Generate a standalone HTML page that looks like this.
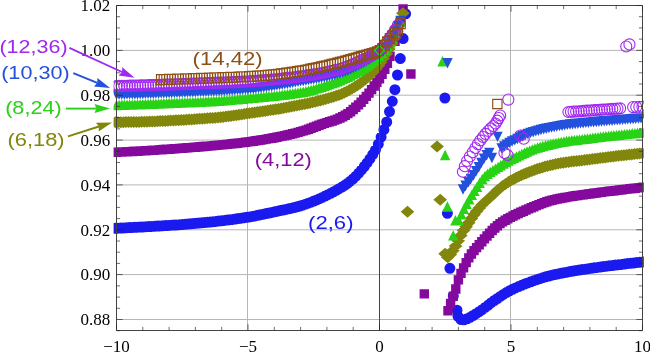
<!DOCTYPE html>
<html><head><meta charset="utf-8"><title>plot</title>
<style>html,body{margin:0;padding:0;background:#fff;}svg{display:block;}text{font-family:"Liberation Serif",serif;}.s{font-family:"Liberation Sans",sans-serif;}</style></head>
<body>
<svg width="650" height="352" viewBox="0 0 650 352" style="will-change:transform">
<rect width="650" height="352" fill="#fff"/>
<path d="M116.5 50.4H642.5M116.5 95.2H642.5M116.5 140.1H642.5M116.5 184.9H642.5M116.5 229.8H642.5M116.5 274.6H642.5M116.5 319.5H642.5M247.5 5.5V330.5M510.5 5.5V330.5" stroke="#b6b6b6" stroke-width="1" fill="none"/>
<defs><clipPath id="c"><rect x="113.6" y="4.2" width="530.2" height="328"/></clipPath></defs>
<g clip-path="url(#c)">
<path d="M109.6 228.3a5.5 5.5 0 1 0 11.0 0a5.5 5.5 0 1 0 -11.0 0zM112.4 228.2a5.5 5.5 0 1 0 11.0 0a5.5 5.5 0 1 0 -11.0 0zM115.2 228.1a5.5 5.5 0 1 0 11.0 0a5.5 5.5 0 1 0 -11.0 0zM118 227.9a5.5 5.5 0 1 0 11.0 0a5.5 5.5 0 1 0 -11.0 0zM120.8 227.8a5.5 5.5 0 1 0 11.0 0a5.5 5.5 0 1 0 -11.0 0zM123.6 227.6a5.5 5.5 0 1 0 11.0 0a5.5 5.5 0 1 0 -11.0 0zM126.4 227.5a5.5 5.5 0 1 0 11.0 0a5.5 5.5 0 1 0 -11.0 0zM129.2 227.3a5.5 5.5 0 1 0 11.0 0a5.5 5.5 0 1 0 -11.0 0zM132 227.2a5.5 5.5 0 1 0 11.0 0a5.5 5.5 0 1 0 -11.0 0zM134.8 227a5.5 5.5 0 1 0 11.0 0a5.5 5.5 0 1 0 -11.0 0zM137.6 226.9a5.5 5.5 0 1 0 11.0 0a5.5 5.5 0 1 0 -11.0 0zM140.4 226.7a5.5 5.5 0 1 0 11.0 0a5.5 5.5 0 1 0 -11.0 0zM143.2 226.6a5.5 5.5 0 1 0 11.0 0a5.5 5.5 0 1 0 -11.0 0zM146 226.4a5.5 5.5 0 1 0 11.0 0a5.5 5.5 0 1 0 -11.0 0zM148.8 226.3a5.5 5.5 0 1 0 11.0 0a5.5 5.5 0 1 0 -11.0 0zM151.6 226.1a5.5 5.5 0 1 0 11.0 0a5.5 5.5 0 1 0 -11.0 0zM154.4 225.9a5.5 5.5 0 1 0 11.0 0a5.5 5.5 0 1 0 -11.0 0zM157.2 225.8a5.5 5.5 0 1 0 11.0 0a5.5 5.5 0 1 0 -11.0 0zM160 225.6a5.5 5.5 0 1 0 11.0 0a5.5 5.5 0 1 0 -11.0 0zM162.8 225.4a5.5 5.5 0 1 0 11.0 0a5.5 5.5 0 1 0 -11.0 0zM165.6 225.2a5.5 5.5 0 1 0 11.0 0a5.5 5.5 0 1 0 -11.0 0zM168.4 225.1a5.5 5.5 0 1 0 11.0 0a5.5 5.5 0 1 0 -11.0 0zM171.2 224.9a5.5 5.5 0 1 0 11.0 0a5.5 5.5 0 1 0 -11.0 0zM174 224.7a5.5 5.5 0 1 0 11.0 0a5.5 5.5 0 1 0 -11.0 0zM176.8 224.5a5.5 5.5 0 1 0 11.0 0a5.5 5.5 0 1 0 -11.0 0zM179.6 224.3a5.5 5.5 0 1 0 11.0 0a5.5 5.5 0 1 0 -11.0 0zM182.4 224a5.5 5.5 0 1 0 11.0 0a5.5 5.5 0 1 0 -11.0 0zM185.2 223.8a5.5 5.5 0 1 0 11.0 0a5.5 5.5 0 1 0 -11.0 0zM188 223.6a5.5 5.5 0 1 0 11.0 0a5.5 5.5 0 1 0 -11.0 0zM190.8 223.3a5.5 5.5 0 1 0 11.0 0a5.5 5.5 0 1 0 -11.0 0zM193.6 223.1a5.5 5.5 0 1 0 11.0 0a5.5 5.5 0 1 0 -11.0 0zM196.4 222.8a5.5 5.5 0 1 0 11.0 0a5.5 5.5 0 1 0 -11.0 0zM199.2 222.6a5.5 5.5 0 1 0 11.0 0a5.5 5.5 0 1 0 -11.0 0zM202 222.3a5.5 5.5 0 1 0 11.0 0a5.5 5.5 0 1 0 -11.0 0zM204.8 222a5.5 5.5 0 1 0 11.0 0a5.5 5.5 0 1 0 -11.0 0zM207.6 221.7a5.5 5.5 0 1 0 11.0 0a5.5 5.5 0 1 0 -11.0 0zM210.4 221.4a5.5 5.5 0 1 0 11.0 0a5.5 5.5 0 1 0 -11.0 0zM213.2 221.1a5.5 5.5 0 1 0 11.0 0a5.5 5.5 0 1 0 -11.0 0zM216 220.8a5.5 5.5 0 1 0 11.0 0a5.5 5.5 0 1 0 -11.0 0zM218.8 220.4a5.5 5.5 0 1 0 11.0 0a5.5 5.5 0 1 0 -11.0 0zM221.6 220.1a5.5 5.5 0 1 0 11.0 0a5.5 5.5 0 1 0 -11.0 0zM224.4 219.7a5.5 5.5 0 1 0 11.0 0a5.5 5.5 0 1 0 -11.0 0zM227.2 219.4a5.5 5.5 0 1 0 11.0 0a5.5 5.5 0 1 0 -11.0 0zM230 219a5.5 5.5 0 1 0 11.0 0a5.5 5.5 0 1 0 -11.0 0zM232.8 218.6a5.5 5.5 0 1 0 11.0 0a5.5 5.5 0 1 0 -11.0 0zM235.6 218.2a5.5 5.5 0 1 0 11.0 0a5.5 5.5 0 1 0 -11.0 0zM238.4 217.8a5.5 5.5 0 1 0 11.0 0a5.5 5.5 0 1 0 -11.0 0zM241.2 217.3a5.5 5.5 0 1 0 11.0 0a5.5 5.5 0 1 0 -11.0 0zM244 216.9a5.5 5.5 0 1 0 11.0 0a5.5 5.5 0 1 0 -11.0 0zM246.8 216.4a5.5 5.5 0 1 0 11.0 0a5.5 5.5 0 1 0 -11.0 0zM249.6 215.9a5.5 5.5 0 1 0 11.0 0a5.5 5.5 0 1 0 -11.0 0zM252.4 215.3a5.5 5.5 0 1 0 11.0 0a5.5 5.5 0 1 0 -11.0 0zM255.2 214.7a5.5 5.5 0 1 0 11.0 0a5.5 5.5 0 1 0 -11.0 0zM258 214.2a5.5 5.5 0 1 0 11.0 0a5.5 5.5 0 1 0 -11.0 0zM260.8 213.6a5.5 5.5 0 1 0 11.0 0a5.5 5.5 0 1 0 -11.0 0zM263.6 213a5.5 5.5 0 1 0 11.0 0a5.5 5.5 0 1 0 -11.0 0zM266.4 212.4a5.5 5.5 0 1 0 11.0 0a5.5 5.5 0 1 0 -11.0 0zM269.2 211.8a5.5 5.5 0 1 0 11.0 0a5.5 5.5 0 1 0 -11.0 0zM272 211.2a5.5 5.5 0 1 0 11.0 0a5.5 5.5 0 1 0 -11.0 0zM274.8 210.6a5.5 5.5 0 1 0 11.0 0a5.5 5.5 0 1 0 -11.0 0zM277.6 210a5.5 5.5 0 1 0 11.0 0a5.5 5.5 0 1 0 -11.0 0zM280.4 209.4a5.5 5.5 0 1 0 11.0 0a5.5 5.5 0 1 0 -11.0 0zM283.2 208.8a5.5 5.5 0 1 0 11.0 0a5.5 5.5 0 1 0 -11.0 0zM286 208.2a5.5 5.5 0 1 0 11.0 0a5.5 5.5 0 1 0 -11.0 0zM288.8 207.5a5.5 5.5 0 1 0 11.0 0a5.5 5.5 0 1 0 -11.0 0zM291.6 206.8a5.5 5.5 0 1 0 11.0 0a5.5 5.5 0 1 0 -11.0 0zM294.4 206a5.5 5.5 0 1 0 11.0 0a5.5 5.5 0 1 0 -11.0 0zM297.2 205.2a5.5 5.5 0 1 0 11.0 0a5.5 5.5 0 1 0 -11.0 0zM300 204.2a5.5 5.5 0 1 0 11.0 0a5.5 5.5 0 1 0 -11.0 0zM302.8 203.2a5.5 5.5 0 1 0 11.0 0a5.5 5.5 0 1 0 -11.0 0zM305.6 202.2a5.5 5.5 0 1 0 11.0 0a5.5 5.5 0 1 0 -11.0 0zM308.4 201a5.5 5.5 0 1 0 11.0 0a5.5 5.5 0 1 0 -11.0 0zM311.2 199.9a5.5 5.5 0 1 0 11.0 0a5.5 5.5 0 1 0 -11.0 0zM314 198.7a5.5 5.5 0 1 0 11.0 0a5.5 5.5 0 1 0 -11.0 0zM316.8 197.4a5.5 5.5 0 1 0 11.0 0a5.5 5.5 0 1 0 -11.0 0zM319.6 196.1a5.5 5.5 0 1 0 11.0 0a5.5 5.5 0 1 0 -11.0 0zM322.4 194.7a5.5 5.5 0 1 0 11.0 0a5.5 5.5 0 1 0 -11.0 0zM325.2 193.3a5.5 5.5 0 1 0 11.0 0a5.5 5.5 0 1 0 -11.0 0zM328 191.8a5.5 5.5 0 1 0 11.0 0a5.5 5.5 0 1 0 -11.0 0zM330.8 190.3a5.5 5.5 0 1 0 11.0 0a5.5 5.5 0 1 0 -11.0 0zM333.6 188.7a5.5 5.5 0 1 0 11.0 0a5.5 5.5 0 1 0 -11.0 0zM336.4 187.1a5.5 5.5 0 1 0 11.0 0a5.5 5.5 0 1 0 -11.0 0zM339.2 185.3a5.5 5.5 0 1 0 11.0 0a5.5 5.5 0 1 0 -11.0 0zM342 183.4a5.5 5.5 0 1 0 11.0 0a5.5 5.5 0 1 0 -11.0 0zM344.8 181.2a5.5 5.5 0 1 0 11.0 0a5.5 5.5 0 1 0 -11.0 0zM347.6 178.8a5.5 5.5 0 1 0 11.0 0a5.5 5.5 0 1 0 -11.0 0zM350.4 176.2a5.5 5.5 0 1 0 11.0 0a5.5 5.5 0 1 0 -11.0 0zM353.2 173.2a5.5 5.5 0 1 0 11.0 0a5.5 5.5 0 1 0 -11.0 0zM356 169.9a5.5 5.5 0 1 0 11.0 0a5.5 5.5 0 1 0 -11.0 0zM358.8 166.5a5.5 5.5 0 1 0 11.0 0a5.5 5.5 0 1 0 -11.0 0zM361.6 162.8a5.5 5.5 0 1 0 11.0 0a5.5 5.5 0 1 0 -11.0 0zM364.4 158.9a5.5 5.5 0 1 0 11.0 0a5.5 5.5 0 1 0 -11.0 0zM367.2 154.6a5.5 5.5 0 1 0 11.0 0a5.5 5.5 0 1 0 -11.0 0zM370 149.8a5.5 5.5 0 1 0 11.0 0a5.5 5.5 0 1 0 -11.0 0zM372.8 144.2a5.5 5.5 0 1 0 11.0 0a5.5 5.5 0 1 0 -11.0 0zM375.6 137.1a5.5 5.5 0 1 0 11.0 0a5.5 5.5 0 1 0 -11.0 0zM378.4 129.7a5.5 5.5 0 1 0 11.0 0a5.5 5.5 0 1 0 -11.0 0zM381.2 122a5.5 5.5 0 1 0 11.0 0a5.5 5.5 0 1 0 -11.0 0zM384 111.6a5.5 5.5 0 1 0 11.0 0a5.5 5.5 0 1 0 -11.0 0zM386.8 101.3a5.5 5.5 0 1 0 11.0 0a5.5 5.5 0 1 0 -11.0 0zM389.4 89.7a5.5 5.5 0 1 0 11.0 0a5.5 5.5 0 1 0 -11.0 0zM392 75a5.5 5.5 0 1 0 11.0 0a5.5 5.5 0 1 0 -11.0 0zM394.8 58.6a5.5 5.5 0 1 0 11.0 0a5.5 5.5 0 1 0 -11.0 0zM397.6 38.6a5.5 5.5 0 1 0 11.0 0a5.5 5.5 0 1 0 -11.0 0zM400.1 13.8a5.5 5.5 0 1 0 11.0 0a5.5 5.5 0 1 0 -11.0 0zM439.4 98a5.5 5.5 0 1 0 11.0 0a5.5 5.5 0 1 0 -11.0 0zM441.9 213.3a5.5 5.5 0 1 0 11.0 0a5.5 5.5 0 1 0 -11.0 0zM444.4 268.3a5.5 5.5 0 1 0 11.0 0a5.5 5.5 0 1 0 -11.0 0zM447.8 296a5.5 5.5 0 1 0 11.0 0a5.5 5.5 0 1 0 -11.0 0zM451.5 310.2a5.5 5.5 0 1 0 11.0 0a5.5 5.5 0 1 0 -11.0 0zM452.5 316.3a5.5 5.5 0 1 0 11.0 0a5.5 5.5 0 1 0 -11.0 0zM455.5 319.6a5.5 5.5 0 1 0 11.0 0a5.5 5.5 0 1 0 -11.0 0zM458.5 319.8a5.5 5.5 0 1 0 11.0 0a5.5 5.5 0 1 0 -11.0 0zM461.6 318.8a5.5 5.5 0 1 0 11.0 0a5.5 5.5 0 1 0 -11.0 0zM464.6 317.3a5.5 5.5 0 1 0 11.0 0a5.5 5.5 0 1 0 -11.0 0zM467.6 315.5a5.5 5.5 0 1 0 11.0 0a5.5 5.5 0 1 0 -11.0 0zM470.6 313.7a5.5 5.5 0 1 0 11.0 0a5.5 5.5 0 1 0 -11.0 0zM473.7 311.7a5.5 5.5 0 1 0 11.0 0a5.5 5.5 0 1 0 -11.0 0zM476.7 309.7a5.5 5.5 0 1 0 11.0 0a5.5 5.5 0 1 0 -11.0 0zM479.7 307.4a5.5 5.5 0 1 0 11.0 0a5.5 5.5 0 1 0 -11.0 0zM482.8 305.1a5.5 5.5 0 1 0 11.0 0a5.5 5.5 0 1 0 -11.0 0zM485.8 302.7a5.5 5.5 0 1 0 11.0 0a5.5 5.5 0 1 0 -11.0 0zM488.8 300.5a5.5 5.5 0 1 0 11.0 0a5.5 5.5 0 1 0 -11.0 0zM491.9 298.5a5.5 5.5 0 1 0 11.0 0a5.5 5.5 0 1 0 -11.0 0zM494.9 296.4a5.5 5.5 0 1 0 11.0 0a5.5 5.5 0 1 0 -11.0 0zM497.9 294.4a5.5 5.5 0 1 0 11.0 0a5.5 5.5 0 1 0 -11.0 0zM500.9 292.6a5.5 5.5 0 1 0 11.0 0a5.5 5.5 0 1 0 -11.0 0zM504 290.8a5.5 5.5 0 1 0 11.0 0a5.5 5.5 0 1 0 -11.0 0zM507 289.3a5.5 5.5 0 1 0 11.0 0a5.5 5.5 0 1 0 -11.0 0zM510 287.9a5.5 5.5 0 1 0 11.0 0a5.5 5.5 0 1 0 -11.0 0zM513.1 286.6a5.5 5.5 0 1 0 11.0 0a5.5 5.5 0 1 0 -11.0 0zM516.1 285.3a5.5 5.5 0 1 0 11.0 0a5.5 5.5 0 1 0 -11.0 0zM519.1 284.1a5.5 5.5 0 1 0 11.0 0a5.5 5.5 0 1 0 -11.0 0zM522.2 282.9a5.5 5.5 0 1 0 11.0 0a5.5 5.5 0 1 0 -11.0 0zM525.2 281.8a5.5 5.5 0 1 0 11.0 0a5.5 5.5 0 1 0 -11.0 0zM528.2 280.7a5.5 5.5 0 1 0 11.0 0a5.5 5.5 0 1 0 -11.0 0zM531.2 279.7a5.5 5.5 0 1 0 11.0 0a5.5 5.5 0 1 0 -11.0 0zM534.3 278.7a5.5 5.5 0 1 0 11.0 0a5.5 5.5 0 1 0 -11.0 0zM537.3 277.7a5.5 5.5 0 1 0 11.0 0a5.5 5.5 0 1 0 -11.0 0zM540.3 276.8a5.5 5.5 0 1 0 11.0 0a5.5 5.5 0 1 0 -11.0 0zM543.4 276a5.5 5.5 0 1 0 11.0 0a5.5 5.5 0 1 0 -11.0 0zM546.4 275.2a5.5 5.5 0 1 0 11.0 0a5.5 5.5 0 1 0 -11.0 0zM549.4 274.6a5.5 5.5 0 1 0 11.0 0a5.5 5.5 0 1 0 -11.0 0zM552.5 273.9a5.5 5.5 0 1 0 11.0 0a5.5 5.5 0 1 0 -11.0 0zM555.5 273.3a5.5 5.5 0 1 0 11.0 0a5.5 5.5 0 1 0 -11.0 0zM558.5 272.7a5.5 5.5 0 1 0 11.0 0a5.5 5.5 0 1 0 -11.0 0zM561.5 272.2a5.5 5.5 0 1 0 11.0 0a5.5 5.5 0 1 0 -11.0 0zM564.6 271.6a5.5 5.5 0 1 0 11.0 0a5.5 5.5 0 1 0 -11.0 0zM567.6 271.1a5.5 5.5 0 1 0 11.0 0a5.5 5.5 0 1 0 -11.0 0zM570.6 270.6a5.5 5.5 0 1 0 11.0 0a5.5 5.5 0 1 0 -11.0 0zM573.7 270.1a5.5 5.5 0 1 0 11.0 0a5.5 5.5 0 1 0 -11.0 0zM576.7 269.6a5.5 5.5 0 1 0 11.0 0a5.5 5.5 0 1 0 -11.0 0zM579.7 269.2a5.5 5.5 0 1 0 11.0 0a5.5 5.5 0 1 0 -11.0 0zM582.8 268.7a5.5 5.5 0 1 0 11.0 0a5.5 5.5 0 1 0 -11.0 0zM585.8 268.3a5.5 5.5 0 1 0 11.0 0a5.5 5.5 0 1 0 -11.0 0zM588.8 267.8a5.5 5.5 0 1 0 11.0 0a5.5 5.5 0 1 0 -11.0 0zM591.8 267.4a5.5 5.5 0 1 0 11.0 0a5.5 5.5 0 1 0 -11.0 0zM594.9 267a5.5 5.5 0 1 0 11.0 0a5.5 5.5 0 1 0 -11.0 0zM597.9 266.6a5.5 5.5 0 1 0 11.0 0a5.5 5.5 0 1 0 -11.0 0zM600.9 266.2a5.5 5.5 0 1 0 11.0 0a5.5 5.5 0 1 0 -11.0 0zM604 265.8a5.5 5.5 0 1 0 11.0 0a5.5 5.5 0 1 0 -11.0 0zM607 265.5a5.5 5.5 0 1 0 11.0 0a5.5 5.5 0 1 0 -11.0 0zM610 265.1a5.5 5.5 0 1 0 11.0 0a5.5 5.5 0 1 0 -11.0 0zM613.1 264.7a5.5 5.5 0 1 0 11.0 0a5.5 5.5 0 1 0 -11.0 0zM616.1 264.4a5.5 5.5 0 1 0 11.0 0a5.5 5.5 0 1 0 -11.0 0zM619.1 264a5.5 5.5 0 1 0 11.0 0a5.5 5.5 0 1 0 -11.0 0zM622.1 263.6a5.5 5.5 0 1 0 11.0 0a5.5 5.5 0 1 0 -11.0 0zM625.2 263.3a5.5 5.5 0 1 0 11.0 0a5.5 5.5 0 1 0 -11.0 0zM628.2 263a5.5 5.5 0 1 0 11.0 0a5.5 5.5 0 1 0 -11.0 0zM631.2 262.6a5.5 5.5 0 1 0 11.0 0a5.5 5.5 0 1 0 -11.0 0zM634.3 262.3a5.5 5.5 0 1 0 11.0 0a5.5 5.5 0 1 0 -11.0 0zM637.3 262a5.5 5.5 0 1 0 11.0 0a5.5 5.5 0 1 0 -11.0 0z" fill="#1a1af0"/>
<path d="M111.8 147.5h9.4v9.4h-9.4zM114.4 147.4h9.4v9.4h-9.4zM117.1 147.3h9.4v9.4h-9.4zM119.7 147.2h9.4v9.4h-9.4zM122.3 147h9.4v9.4h-9.4zM124.9 146.9h9.4v9.4h-9.4zM127.6 146.8h9.4v9.4h-9.4zM130.2 146.6h9.4v9.4h-9.4zM132.8 146.5h9.4v9.4h-9.4zM135.5 146.3h9.4v9.4h-9.4zM138.1 146.2h9.4v9.4h-9.4zM140.7 146h9.4v9.4h-9.4zM143.4 145.9h9.4v9.4h-9.4zM146 145.7h9.4v9.4h-9.4zM148.6 145.5h9.4v9.4h-9.4zM151.2 145.4h9.4v9.4h-9.4zM153.9 145.2h9.4v9.4h-9.4zM156.5 145h9.4v9.4h-9.4zM159.1 144.8h9.4v9.4h-9.4zM161.8 144.6h9.4v9.4h-9.4zM164.4 144.5h9.4v9.4h-9.4zM167 144.3h9.4v9.4h-9.4zM169.7 144.1h9.4v9.4h-9.4zM172.3 143.9h9.4v9.4h-9.4zM174.9 143.7h9.4v9.4h-9.4zM177.5 143.5h9.4v9.4h-9.4zM180.2 143.3h9.4v9.4h-9.4zM182.8 143.1h9.4v9.4h-9.4zM185.4 142.9h9.4v9.4h-9.4zM188.1 142.7h9.4v9.4h-9.4zM190.7 142.5h9.4v9.4h-9.4zM193.3 142.3h9.4v9.4h-9.4zM196 142h9.4v9.4h-9.4zM198.6 141.8h9.4v9.4h-9.4zM201.2 141.6h9.4v9.4h-9.4zM203.8 141.4h9.4v9.4h-9.4zM206.5 141.2h9.4v9.4h-9.4zM209.1 140.9h9.4v9.4h-9.4zM211.7 140.7h9.4v9.4h-9.4zM214.4 140.4h9.4v9.4h-9.4zM217 140.2h9.4v9.4h-9.4zM219.6 139.9h9.4v9.4h-9.4zM222.3 139.7h9.4v9.4h-9.4zM224.9 139.4h9.4v9.4h-9.4zM227.5 139.1h9.4v9.4h-9.4zM230.1 138.8h9.4v9.4h-9.4zM232.8 138.5h9.4v9.4h-9.4zM235.4 138.2h9.4v9.4h-9.4zM238 137.9h9.4v9.4h-9.4zM240.7 137.6h9.4v9.4h-9.4zM243.3 137.2h9.4v9.4h-9.4zM245.9 136.9h9.4v9.4h-9.4zM248.6 136.5h9.4v9.4h-9.4zM251.2 136.1h9.4v9.4h-9.4zM253.8 135.7h9.4v9.4h-9.4zM256.4 135.3h9.4v9.4h-9.4zM259.1 134.9h9.4v9.4h-9.4zM261.7 134.4h9.4v9.4h-9.4zM264.3 133.9h9.4v9.4h-9.4zM267 133.5h9.4v9.4h-9.4zM269.6 133h9.4v9.4h-9.4zM272.2 132.5h9.4v9.4h-9.4zM274.9 131.9h9.4v9.4h-9.4zM277.5 131.4h9.4v9.4h-9.4zM280.1 130.9h9.4v9.4h-9.4zM282.7 130.3h9.4v9.4h-9.4zM285.4 129.7h9.4v9.4h-9.4zM288 129.1h9.4v9.4h-9.4zM290.6 128.4h9.4v9.4h-9.4zM293.3 127.7h9.4v9.4h-9.4zM295.9 126.9h9.4v9.4h-9.4zM298.5 126.2h9.4v9.4h-9.4zM301.2 125.4h9.4v9.4h-9.4zM303.8 124.5h9.4v9.4h-9.4zM306.4 123.6h9.4v9.4h-9.4zM309 122.5h9.4v9.4h-9.4zM311.7 121.5h9.4v9.4h-9.4zM314.3 120.5h9.4v9.4h-9.4zM316.9 119.5h9.4v9.4h-9.4zM319.6 118.7h9.4v9.4h-9.4zM322.2 117.9h9.4v9.4h-9.4zM324.8 117.1h9.4v9.4h-9.4zM327.5 116.3h9.4v9.4h-9.4zM330.1 115.4h9.4v9.4h-9.4zM332.7 114.4h9.4v9.4h-9.4zM335.3 113.3h9.4v9.4h-9.4zM338 112h9.4v9.4h-9.4zM340.6 110.6h9.4v9.4h-9.4zM343.2 108.9h9.4v9.4h-9.4zM345.9 107h9.4v9.4h-9.4zM348.5 104.8h9.4v9.4h-9.4zM351.1 102.6h9.4v9.4h-9.4zM353.8 100.2h9.4v9.4h-9.4zM356.4 97.5h9.4v9.4h-9.4zM359 94.7h9.4v9.4h-9.4zM361.6 91.7h9.4v9.4h-9.4zM364.3 88.4h9.4v9.4h-9.4zM366.9 84.9h9.4v9.4h-9.4zM369.5 81.3h9.4v9.4h-9.4zM372.2 77.7h9.4v9.4h-9.4zM374.8 74h9.4v9.4h-9.4zM377.4 69.7h9.4v9.4h-9.4zM380.1 64.6h9.4v9.4h-9.4zM382.7 58.7h9.4v9.4h-9.4zM385.3 51.6h9.4v9.4h-9.4zM390.3 36.6h9.4v9.4h-9.4zM392.9 28.3h9.4v9.4h-9.4zM395.6 17.3h9.4v9.4h-9.4zM398.4 4.1h9.4v9.4h-9.4zM406.2 69.3h9.4v9.4h-9.4zM419.6 289.2h9.4v9.4h-9.4zM443.3 306h9.4v9.4h-9.4zM445.9 298.8h9.4v9.4h-9.4zM448.5 291.7h9.4v9.4h-9.4zM451.1 284.3h9.4v9.4h-9.4zM453.7 275.2h9.4v9.4h-9.4zM456.3 268.7h9.4v9.4h-9.4zM458.9 263.2h9.4v9.4h-9.4zM461.5 257.9h9.4v9.4h-9.4zM464.1 253.2h9.4v9.4h-9.4zM466.7 249.3h9.4v9.4h-9.4zM469.3 245.9h9.4v9.4h-9.4zM471.9 242.9h9.4v9.4h-9.4zM474.5 240h9.4v9.4h-9.4zM477.1 237.1h9.4v9.4h-9.4zM479.7 234.2h9.4v9.4h-9.4zM482.3 231.3h9.4v9.4h-9.4zM484.9 228.5h9.4v9.4h-9.4zM487.5 225.8h9.4v9.4h-9.4zM490.1 223.3h9.4v9.4h-9.4zM492.7 221h9.4v9.4h-9.4zM495.3 218.9h9.4v9.4h-9.4zM497.9 217.2h9.4v9.4h-9.4zM500.5 215.5h9.4v9.4h-9.4zM503.1 214.1h9.4v9.4h-9.4zM505.7 212.7h9.4v9.4h-9.4zM508.3 211.3h9.4v9.4h-9.4zM510.9 210h9.4v9.4h-9.4zM513.5 208.8h9.4v9.4h-9.4zM516.1 207.6h9.4v9.4h-9.4zM518.7 206.5h9.4v9.4h-9.4zM521.3 205.3h9.4v9.4h-9.4zM523.9 204.2h9.4v9.4h-9.4zM526.5 203.1h9.4v9.4h-9.4zM529.1 202h9.4v9.4h-9.4zM531.7 200.9h9.4v9.4h-9.4zM534.3 199.9h9.4v9.4h-9.4zM536.9 198.9h9.4v9.4h-9.4zM539.5 197.9h9.4v9.4h-9.4zM542.1 197h9.4v9.4h-9.4zM544.7 196.2h9.4v9.4h-9.4zM547.3 195.5h9.4v9.4h-9.4zM549.9 194.9h9.4v9.4h-9.4zM552.5 194.3h9.4v9.4h-9.4zM555.1 193.8h9.4v9.4h-9.4zM557.7 193.3h9.4v9.4h-9.4zM560.3 192.8h9.4v9.4h-9.4zM562.9 192.4h9.4v9.4h-9.4zM565.5 191.9h9.4v9.4h-9.4zM568.1 191.5h9.4v9.4h-9.4zM570.7 191.1h9.4v9.4h-9.4zM573.3 190.8h9.4v9.4h-9.4zM575.9 190.4h9.4v9.4h-9.4zM578.5 190.1h9.4v9.4h-9.4zM581.1 189.7h9.4v9.4h-9.4zM583.7 189.3h9.4v9.4h-9.4zM586.3 189h9.4v9.4h-9.4zM588.9 188.6h9.4v9.4h-9.4zM591.5 188.3h9.4v9.4h-9.4zM594.1 187.9h9.4v9.4h-9.4zM596.7 187.6h9.4v9.4h-9.4zM599.3 187.2h9.4v9.4h-9.4zM601.9 186.9h9.4v9.4h-9.4zM604.5 186.6h9.4v9.4h-9.4zM607.1 186.3h9.4v9.4h-9.4zM609.7 186h9.4v9.4h-9.4zM612.3 185.7h9.4v9.4h-9.4zM614.9 185.3h9.4v9.4h-9.4zM617.5 185h9.4v9.4h-9.4zM620.1 184.7h9.4v9.4h-9.4zM622.7 184.4h9.4v9.4h-9.4zM625.3 184.1h9.4v9.4h-9.4zM627.9 183.8h9.4v9.4h-9.4zM630.5 183.5h9.4v9.4h-9.4zM633.1 183.2h9.4v9.4h-9.4zM635.7 182.9h9.4v9.4h-9.4zM638.3 182.6h9.4v9.4h-9.4z" fill="#85099d"/>
<path d="M108.6 122.2l6.8 -6.0l6.8 6.0l-6.8 6.0zM111.2 122.2l6.8 -6.0l6.8 6.0l-6.8 6.0zM113.9 122.2l6.8 -6.0l6.8 6.0l-6.8 6.0zM116.5 122.2l6.8 -6.0l6.8 6.0l-6.8 6.0zM119.1 122.1l6.8 -6.0l6.8 6.0l-6.8 6.0zM121.7 122.1l6.8 -6.0l6.8 6.0l-6.8 6.0zM124.4 122.1l6.8 -6.0l6.8 6.0l-6.8 6.0zM127 122l6.8 -6.0l6.8 6.0l-6.8 6.0zM129.6 122l6.8 -6.0l6.8 6.0l-6.8 6.0zM132.3 121.9l6.8 -6.0l6.8 6.0l-6.8 6.0zM134.9 121.8l6.8 -6.0l6.8 6.0l-6.8 6.0zM137.5 121.7l6.8 -6.0l6.8 6.0l-6.8 6.0zM140.2 121.7l6.8 -6.0l6.8 6.0l-6.8 6.0zM142.8 121.6l6.8 -6.0l6.8 6.0l-6.8 6.0zM145.4 121.5l6.8 -6.0l6.8 6.0l-6.8 6.0zM148 121.4l6.8 -6.0l6.8 6.0l-6.8 6.0zM150.7 121.3l6.8 -6.0l6.8 6.0l-6.8 6.0zM153.3 121.1l6.8 -6.0l6.8 6.0l-6.8 6.0zM155.9 121l6.8 -6.0l6.8 6.0l-6.8 6.0zM158.6 120.9l6.8 -6.0l6.8 6.0l-6.8 6.0zM161.2 120.8l6.8 -6.0l6.8 6.0l-6.8 6.0zM163.8 120.6l6.8 -6.0l6.8 6.0l-6.8 6.0zM166.5 120.5l6.8 -6.0l6.8 6.0l-6.8 6.0zM169.1 120.3l6.8 -6.0l6.8 6.0l-6.8 6.0zM171.7 120.2l6.8 -6.0l6.8 6.0l-6.8 6.0zM174.3 120l6.8 -6.0l6.8 6.0l-6.8 6.0zM177 119.9l6.8 -6.0l6.8 6.0l-6.8 6.0zM179.6 119.7l6.8 -6.0l6.8 6.0l-6.8 6.0zM182.2 119.5l6.8 -6.0l6.8 6.0l-6.8 6.0zM184.9 119.4l6.8 -6.0l6.8 6.0l-6.8 6.0zM187.5 119.2l6.8 -6.0l6.8 6.0l-6.8 6.0zM190.1 119l6.8 -6.0l6.8 6.0l-6.8 6.0zM192.8 118.8l6.8 -6.0l6.8 6.0l-6.8 6.0zM195.4 118.7l6.8 -6.0l6.8 6.0l-6.8 6.0zM198 118.5l6.8 -6.0l6.8 6.0l-6.8 6.0zM200.6 118.3l6.8 -6.0l6.8 6.0l-6.8 6.0zM203.3 118.1l6.8 -6.0l6.8 6.0l-6.8 6.0zM205.9 117.9l6.8 -6.0l6.8 6.0l-6.8 6.0zM208.5 117.7l6.8 -6.0l6.8 6.0l-6.8 6.0zM211.2 117.5l6.8 -6.0l6.8 6.0l-6.8 6.0zM213.8 117.2l6.8 -6.0l6.8 6.0l-6.8 6.0zM216.4 116.9l6.8 -6.0l6.8 6.0l-6.8 6.0zM219.1 116.6l6.8 -6.0l6.8 6.0l-6.8 6.0zM221.7 116.3l6.8 -6.0l6.8 6.0l-6.8 6.0zM224.3 115.9l6.8 -6.0l6.8 6.0l-6.8 6.0zM226.9 115.5l6.8 -6.0l6.8 6.0l-6.8 6.0zM229.6 115.2l6.8 -6.0l6.8 6.0l-6.8 6.0zM232.2 114.8l6.8 -6.0l6.8 6.0l-6.8 6.0zM234.8 114.4l6.8 -6.0l6.8 6.0l-6.8 6.0zM237.5 114l6.8 -6.0l6.8 6.0l-6.8 6.0zM240.1 113.6l6.8 -6.0l6.8 6.0l-6.8 6.0zM242.7 113.2l6.8 -6.0l6.8 6.0l-6.8 6.0zM245.4 112.8l6.8 -6.0l6.8 6.0l-6.8 6.0zM248 112.5l6.8 -6.0l6.8 6.0l-6.8 6.0zM250.6 112.1l6.8 -6.0l6.8 6.0l-6.8 6.0zM253.2 111.7l6.8 -6.0l6.8 6.0l-6.8 6.0zM255.9 111.3l6.8 -6.0l6.8 6.0l-6.8 6.0zM258.5 110.9l6.8 -6.0l6.8 6.0l-6.8 6.0zM261.1 110.5l6.8 -6.0l6.8 6.0l-6.8 6.0zM263.8 110.1l6.8 -6.0l6.8 6.0l-6.8 6.0zM266.4 109.7l6.8 -6.0l6.8 6.0l-6.8 6.0zM269 109.3l6.8 -6.0l6.8 6.0l-6.8 6.0zM271.7 108.9l6.8 -6.0l6.8 6.0l-6.8 6.0zM274.3 108.5l6.8 -6.0l6.8 6.0l-6.8 6.0zM276.9 108l6.8 -6.0l6.8 6.0l-6.8 6.0zM279.5 107.6l6.8 -6.0l6.8 6.0l-6.8 6.0zM282.2 107.1l6.8 -6.0l6.8 6.0l-6.8 6.0zM284.8 106.6l6.8 -6.0l6.8 6.0l-6.8 6.0zM287.4 106.1l6.8 -6.0l6.8 6.0l-6.8 6.0zM290.1 105.6l6.8 -6.0l6.8 6.0l-6.8 6.0zM292.7 105.1l6.8 -6.0l6.8 6.0l-6.8 6.0zM295.3 104.6l6.8 -6.0l6.8 6.0l-6.8 6.0zM298 104l6.8 -6.0l6.8 6.0l-6.8 6.0zM300.6 103.5l6.8 -6.0l6.8 6.0l-6.8 6.0zM303.2 102.9l6.8 -6.0l6.8 6.0l-6.8 6.0zM305.8 102.3l6.8 -6.0l6.8 6.0l-6.8 6.0zM308.5 101.7l6.8 -6.0l6.8 6.0l-6.8 6.0zM311.1 101.1l6.8 -6.0l6.8 6.0l-6.8 6.0zM313.7 100.5l6.8 -6.0l6.8 6.0l-6.8 6.0zM316.4 99.8l6.8 -6.0l6.8 6.0l-6.8 6.0zM319 99.1l6.8 -6.0l6.8 6.0l-6.8 6.0zM321.6 98.3l6.8 -6.0l6.8 6.0l-6.8 6.0zM324.3 97.5l6.8 -6.0l6.8 6.0l-6.8 6.0zM326.9 96.7l6.8 -6.0l6.8 6.0l-6.8 6.0zM329.5 95.8l6.8 -6.0l6.8 6.0l-6.8 6.0zM332.1 94.9l6.8 -6.0l6.8 6.0l-6.8 6.0zM334.8 93.9l6.8 -6.0l6.8 6.0l-6.8 6.0zM337.4 92.8l6.8 -6.0l6.8 6.0l-6.8 6.0zM340 91.5l6.8 -6.0l6.8 6.0l-6.8 6.0zM342.7 90.1l6.8 -6.0l6.8 6.0l-6.8 6.0zM345.3 88.6l6.8 -6.0l6.8 6.0l-6.8 6.0zM347.9 87l6.8 -6.0l6.8 6.0l-6.8 6.0zM350.6 85.3l6.8 -6.0l6.8 6.0l-6.8 6.0zM353.2 83.5l6.8 -6.0l6.8 6.0l-6.8 6.0zM355.8 81.6l6.8 -6.0l6.8 6.0l-6.8 6.0zM358.4 79.4l6.8 -6.0l6.8 6.0l-6.8 6.0zM361.1 77l6.8 -6.0l6.8 6.0l-6.8 6.0zM363.7 74.5l6.8 -6.0l6.8 6.0l-6.8 6.0zM366.3 71.7l6.8 -6.0l6.8 6.0l-6.8 6.0zM369 68.7l6.8 -6.0l6.8 6.0l-6.8 6.0zM371.6 65.5l6.8 -6.0l6.8 6.0l-6.8 6.0zM374.2 61.9l6.8 -6.0l6.8 6.0l-6.8 6.0zM376.9 58l6.8 -6.0l6.8 6.0l-6.8 6.0zM379.5 53.7l6.8 -6.0l6.8 6.0l-6.8 6.0zM382.1 49l6.8 -6.0l6.8 6.0l-6.8 6.0zM384.7 43.9l6.8 -6.0l6.8 6.0l-6.8 6.0zM387.4 38l6.8 -6.0l6.8 6.0l-6.8 6.0zM390 31.5l6.8 -6.0l6.8 6.0l-6.8 6.0zM392.6 24.1l6.8 -6.0l6.8 6.0l-6.8 6.0zM396.1 13.2l6.8 -6.0l6.8 6.0l-6.8 6.0zM400.7 211.7l6.8 -6.0l6.8 6.0l-6.8 6.0zM430.3 146.5l6.8 -6.0l6.8 6.0l-6.8 6.0zM433.4 199.7l6.8 -6.0l6.8 6.0l-6.8 6.0zM438.3 253.8l6.8 -6.0l6.8 6.0l-6.8 6.0zM440.9 257.2l6.8 -6.0l6.8 6.0l-6.8 6.0zM443.5 254.6l6.8 -6.0l6.8 6.0l-6.8 6.0zM446.2 250.6l6.8 -6.0l6.8 6.0l-6.8 6.0zM448.8 246l6.8 -6.0l6.8 6.0l-6.8 6.0zM451.4 240.7l6.8 -6.0l6.8 6.0l-6.8 6.0zM454 235.6l6.8 -6.0l6.8 6.0l-6.8 6.0zM456.7 230.5l6.8 -6.0l6.8 6.0l-6.8 6.0zM459.3 226.8l6.8 -6.0l6.8 6.0l-6.8 6.0zM461.9 222.8l6.8 -6.0l6.8 6.0l-6.8 6.0zM464.6 218.5l6.8 -6.0l6.8 6.0l-6.8 6.0zM467.2 214.7l6.8 -6.0l6.8 6.0l-6.8 6.0zM469.8 211.2l6.8 -6.0l6.8 6.0l-6.8 6.0zM472.5 208l6.8 -6.0l6.8 6.0l-6.8 6.0zM475.1 205.1l6.8 -6.0l6.8 6.0l-6.8 6.0zM477.7 202.5l6.8 -6.0l6.8 6.0l-6.8 6.0zM480.3 200.1l6.8 -6.0l6.8 6.0l-6.8 6.0zM483 197.8l6.8 -6.0l6.8 6.0l-6.8 6.0zM485.6 195.3l6.8 -6.0l6.8 6.0l-6.8 6.0zM488.2 192.7l6.8 -6.0l6.8 6.0l-6.8 6.0zM490.9 190.1l6.8 -6.0l6.8 6.0l-6.8 6.0zM493.5 187.9l6.8 -6.0l6.8 6.0l-6.8 6.0zM496.1 185.8l6.8 -6.0l6.8 6.0l-6.8 6.0zM498.8 183.9l6.8 -6.0l6.8 6.0l-6.8 6.0zM501.4 182.2l6.8 -6.0l6.8 6.0l-6.8 6.0zM504 180.6l6.8 -6.0l6.8 6.0l-6.8 6.0zM506.6 179.2l6.8 -6.0l6.8 6.0l-6.8 6.0zM509.3 177.8l6.8 -6.0l6.8 6.0l-6.8 6.0zM511.9 176.5l6.8 -6.0l6.8 6.0l-6.8 6.0zM514.5 175.3l6.8 -6.0l6.8 6.0l-6.8 6.0zM517.2 174.1l6.8 -6.0l6.8 6.0l-6.8 6.0zM519.8 173.1l6.8 -6.0l6.8 6.0l-6.8 6.0zM522.4 172l6.8 -6.0l6.8 6.0l-6.8 6.0zM525.1 171l6.8 -6.0l6.8 6.0l-6.8 6.0zM527.7 170.1l6.8 -6.0l6.8 6.0l-6.8 6.0zM530.3 169.1l6.8 -6.0l6.8 6.0l-6.8 6.0zM532.9 168.2l6.8 -6.0l6.8 6.0l-6.8 6.0zM535.6 167.4l6.8 -6.0l6.8 6.0l-6.8 6.0zM538.2 166.6l6.8 -6.0l6.8 6.0l-6.8 6.0zM540.8 165.9l6.8 -6.0l6.8 6.0l-6.8 6.0zM543.5 165.2l6.8 -6.0l6.8 6.0l-6.8 6.0zM546.1 164.7l6.8 -6.0l6.8 6.0l-6.8 6.0zM548.7 164.1l6.8 -6.0l6.8 6.0l-6.8 6.0zM551.4 163.6l6.8 -6.0l6.8 6.0l-6.8 6.0zM554 163.1l6.8 -6.0l6.8 6.0l-6.8 6.0zM556.6 162.7l6.8 -6.0l6.8 6.0l-6.8 6.0zM559.2 162.3l6.8 -6.0l6.8 6.0l-6.8 6.0zM561.9 161.9l6.8 -6.0l6.8 6.0l-6.8 6.0zM564.5 161.6l6.8 -6.0l6.8 6.0l-6.8 6.0zM567.1 161.2l6.8 -6.0l6.8 6.0l-6.8 6.0zM569.8 161l6.8 -6.0l6.8 6.0l-6.8 6.0zM572.4 160.7l6.8 -6.0l6.8 6.0l-6.8 6.0zM575 160.4l6.8 -6.0l6.8 6.0l-6.8 6.0zM577.7 160.1l6.8 -6.0l6.8 6.0l-6.8 6.0zM580.3 159.7l6.8 -6.0l6.8 6.0l-6.8 6.0zM582.9 159.4l6.8 -6.0l6.8 6.0l-6.8 6.0zM585.5 159l6.8 -6.0l6.8 6.0l-6.8 6.0zM588.2 158.7l6.8 -6.0l6.8 6.0l-6.8 6.0zM590.8 158.4l6.8 -6.0l6.8 6.0l-6.8 6.0zM593.4 158l6.8 -6.0l6.8 6.0l-6.8 6.0zM596.1 157.7l6.8 -6.0l6.8 6.0l-6.8 6.0zM598.7 157.4l6.8 -6.0l6.8 6.0l-6.8 6.0zM601.3 157.1l6.8 -6.0l6.8 6.0l-6.8 6.0zM604 156.7l6.8 -6.0l6.8 6.0l-6.8 6.0zM606.6 156.4l6.8 -6.0l6.8 6.0l-6.8 6.0zM609.2 156.1l6.8 -6.0l6.8 6.0l-6.8 6.0zM611.8 155.8l6.8 -6.0l6.8 6.0l-6.8 6.0zM614.5 155.5l6.8 -6.0l6.8 6.0l-6.8 6.0zM617.1 155.2l6.8 -6.0l6.8 6.0l-6.8 6.0zM619.7 154.9l6.8 -6.0l6.8 6.0l-6.8 6.0zM622.4 154.6l6.8 -6.0l6.8 6.0l-6.8 6.0zM625 154.4l6.8 -6.0l6.8 6.0l-6.8 6.0zM627.6 154.1l6.8 -6.0l6.8 6.0l-6.8 6.0zM630.3 153.8l6.8 -6.0l6.8 6.0l-6.8 6.0zM632.9 153.5l6.8 -6.0l6.8 6.0l-6.8 6.0zM635.5 153.3l6.8 -6.0l6.8 6.0l-6.8 6.0z" fill="#82860a"/>
<path d="M116.5 99.8l5.2 10.4l-10.4 0zM119.1 99.7l5.2 10.4l-10.4 0zM121.8 99.6l5.2 10.4l-10.4 0zM124.4 99.5l5.2 10.4l-10.4 0zM127 99.4l5.2 10.4l-10.4 0zM129.6 99.3l5.2 10.4l-10.4 0zM132.3 99.3l5.2 10.4l-10.4 0zM134.9 99.2l5.2 10.4l-10.4 0zM137.5 99.1l5.2 10.4l-10.4 0zM140.2 99l5.2 10.4l-10.4 0zM142.8 98.9l5.2 10.4l-10.4 0zM145.4 98.8l5.2 10.4l-10.4 0zM148.1 98.7l5.2 10.4l-10.4 0zM150.7 98.6l5.2 10.4l-10.4 0zM153.3 98.5l5.2 10.4l-10.4 0zM155.9 98.4l5.2 10.4l-10.4 0zM158.6 98.3l5.2 10.4l-10.4 0zM161.2 98.2l5.2 10.4l-10.4 0zM163.8 98l5.2 10.4l-10.4 0zM166.5 97.9l5.2 10.4l-10.4 0zM169.1 97.8l5.2 10.4l-10.4 0zM171.7 97.7l5.2 10.4l-10.4 0zM174.4 97.6l5.2 10.4l-10.4 0zM177 97.5l5.2 10.4l-10.4 0zM179.6 97.4l5.2 10.4l-10.4 0zM182.2 97.3l5.2 10.4l-10.4 0zM184.9 97.2l5.2 10.4l-10.4 0zM187.5 97.1l5.2 10.4l-10.4 0zM190.1 97l5.2 10.4l-10.4 0zM192.8 96.9l5.2 10.4l-10.4 0zM195.4 96.8l5.2 10.4l-10.4 0zM198 96.7l5.2 10.4l-10.4 0zM200.7 96.5l5.2 10.4l-10.4 0zM203.3 96.4l5.2 10.4l-10.4 0zM205.9 96.3l5.2 10.4l-10.4 0zM208.5 96.1l5.2 10.4l-10.4 0zM211.2 96l5.2 10.4l-10.4 0zM213.8 95.8l5.2 10.4l-10.4 0zM216.4 95.7l5.2 10.4l-10.4 0zM219.1 95.5l5.2 10.4l-10.4 0zM221.7 95.3l5.2 10.4l-10.4 0zM224.3 95.1l5.2 10.4l-10.4 0zM227 94.9l5.2 10.4l-10.4 0zM229.6 94.7l5.2 10.4l-10.4 0zM232.2 94.4l5.2 10.4l-10.4 0zM234.8 94.2l5.2 10.4l-10.4 0zM237.5 94l5.2 10.4l-10.4 0zM240.1 93.7l5.2 10.4l-10.4 0zM242.7 93.5l5.2 10.4l-10.4 0zM245.4 93.2l5.2 10.4l-10.4 0zM248 93l5.2 10.4l-10.4 0zM250.6 92.7l5.2 10.4l-10.4 0zM253.3 92.5l5.2 10.4l-10.4 0zM255.9 92.2l5.2 10.4l-10.4 0zM258.5 92l5.2 10.4l-10.4 0zM261.1 91.7l5.2 10.4l-10.4 0zM263.8 91.5l5.2 10.4l-10.4 0zM266.4 91.2l5.2 10.4l-10.4 0zM269 91l5.2 10.4l-10.4 0zM271.7 90.7l5.2 10.4l-10.4 0zM274.3 90.5l5.2 10.4l-10.4 0zM276.9 90.2l5.2 10.4l-10.4 0zM279.6 89.9l5.2 10.4l-10.4 0zM282.2 89.6l5.2 10.4l-10.4 0zM284.8 89.3l5.2 10.4l-10.4 0zM287.4 88.9l5.2 10.4l-10.4 0zM290.1 88.6l5.2 10.4l-10.4 0zM292.7 88.2l5.2 10.4l-10.4 0zM295.3 87.8l5.2 10.4l-10.4 0zM298 87.4l5.2 10.4l-10.4 0zM300.6 87l5.2 10.4l-10.4 0zM303.2 86.5l5.2 10.4l-10.4 0zM305.9 86l5.2 10.4l-10.4 0zM308.5 85.4l5.2 10.4l-10.4 0zM311.1 84.7l5.2 10.4l-10.4 0zM313.7 84l5.2 10.4l-10.4 0zM316.4 83.2l5.2 10.4l-10.4 0zM319 82.4l5.2 10.4l-10.4 0zM321.6 81.6l5.2 10.4l-10.4 0zM324.3 80.7l5.2 10.4l-10.4 0zM326.9 79.8l5.2 10.4l-10.4 0zM329.5 78.9l5.2 10.4l-10.4 0zM332.2 77.9l5.2 10.4l-10.4 0zM334.8 77l5.2 10.4l-10.4 0zM337.4 76l5.2 10.4l-10.4 0zM340 75l5.2 10.4l-10.4 0zM342.7 73.9l5.2 10.4l-10.4 0zM345.3 72.7l5.2 10.4l-10.4 0zM347.9 71.5l5.2 10.4l-10.4 0zM350.6 70.3l5.2 10.4l-10.4 0zM353.2 68.9l5.2 10.4l-10.4 0zM355.8 67.5l5.2 10.4l-10.4 0zM358.5 66.1l5.2 10.4l-10.4 0zM361.1 64.6l5.2 10.4l-10.4 0zM363.7 63l5.2 10.4l-10.4 0zM366.3 61.3l5.2 10.4l-10.4 0zM369 59.5l5.2 10.4l-10.4 0zM371.6 57.6l5.2 10.4l-10.4 0zM374.2 55.6l5.2 10.4l-10.4 0zM376.9 53.3l5.2 10.4l-10.4 0zM379.5 50.8l5.2 10.4l-10.4 0zM382.1 47.9l5.2 10.4l-10.4 0zM384.8 44.5l5.2 10.4l-10.4 0zM387.4 40.8l5.2 10.4l-10.4 0zM390 36.8l5.2 10.4l-10.4 0zM392.6 32.5l5.2 10.4l-10.4 0zM395.3 27.7l5.2 10.4l-10.4 0zM397.9 22.4l5.2 10.4l-10.4 0zM400.5 16.4l5.2 10.4l-10.4 0zM442.5 56l5.2 10.4l-10.4 0zM445.1 149.8l5.2 10.4l-10.4 0zM447.4 201.3l5.2 10.4l-10.4 0zM453.2 230.2l5.2 10.4l-10.4 0zM455.4 215.1l5.2 10.4l-10.4 0zM458.7 215.2l5.2 10.4l-10.4 0zM461.3 209l5.2 10.4l-10.4 0zM463.9 203.5l5.2 10.4l-10.4 0zM466.6 198.5l5.2 10.4l-10.4 0zM469.2 194l5.2 10.4l-10.4 0zM471.8 189.7l5.2 10.4l-10.4 0zM474.4 185.6l5.2 10.4l-10.4 0zM477.1 181.6l5.2 10.4l-10.4 0zM479.7 177.5l5.2 10.4l-10.4 0zM482.3 173.8l5.2 10.4l-10.4 0zM485 170.8l5.2 10.4l-10.4 0zM487.6 168.6l5.2 10.4l-10.4 0zM490.2 166.7l5.2 10.4l-10.4 0zM492.9 165l5.2 10.4l-10.4 0zM495.5 163.4l5.2 10.4l-10.4 0zM498.1 161.7l5.2 10.4l-10.4 0zM500.7 160l5.2 10.4l-10.4 0zM503.4 158.3l5.2 10.4l-10.4 0zM506 156.8l5.2 10.4l-10.4 0zM508.6 155.3l5.2 10.4l-10.4 0zM511.3 153.9l5.2 10.4l-10.4 0zM513.9 152.6l5.2 10.4l-10.4 0zM516.5 151.3l5.2 10.4l-10.4 0zM519.2 150l5.2 10.4l-10.4 0zM521.8 148.7l5.2 10.4l-10.4 0zM524.4 147.5l5.2 10.4l-10.4 0zM527 146.3l5.2 10.4l-10.4 0zM529.7 145.2l5.2 10.4l-10.4 0zM532.3 144.2l5.2 10.4l-10.4 0zM534.9 143.2l5.2 10.4l-10.4 0zM537.6 142.3l5.2 10.4l-10.4 0zM540.2 141.5l5.2 10.4l-10.4 0zM542.8 140.8l5.2 10.4l-10.4 0zM545.5 140.1l5.2 10.4l-10.4 0zM548.1 139.5l5.2 10.4l-10.4 0zM550.7 138.8l5.2 10.4l-10.4 0zM553.3 138.3l5.2 10.4l-10.4 0zM556 137.7l5.2 10.4l-10.4 0zM558.6 137.2l5.2 10.4l-10.4 0zM561.2 136.7l5.2 10.4l-10.4 0zM563.9 136.3l5.2 10.4l-10.4 0zM566.5 135.8l5.2 10.4l-10.4 0zM569.1 135.4l5.2 10.4l-10.4 0zM571.8 135.1l5.2 10.4l-10.4 0zM574.4 134.8l5.2 10.4l-10.4 0zM577 134.5l5.2 10.4l-10.4 0zM579.6 134.2l5.2 10.4l-10.4 0zM582.3 133.9l5.2 10.4l-10.4 0zM584.9 133.6l5.2 10.4l-10.4 0zM587.5 133.3l5.2 10.4l-10.4 0zM590.2 132.9l5.2 10.4l-10.4 0zM592.8 132.6l5.2 10.4l-10.4 0zM595.4 132.2l5.2 10.4l-10.4 0zM598.1 131.9l5.2 10.4l-10.4 0zM600.7 131.6l5.2 10.4l-10.4 0zM603.3 131.2l5.2 10.4l-10.4 0zM605.9 130.9l5.2 10.4l-10.4 0zM608.6 130.6l5.2 10.4l-10.4 0zM611.2 130.3l5.2 10.4l-10.4 0zM613.8 130l5.2 10.4l-10.4 0zM616.5 129.8l5.2 10.4l-10.4 0zM619.1 129.5l5.2 10.4l-10.4 0zM621.7 129.2l5.2 10.4l-10.4 0zM624.4 128.9l5.2 10.4l-10.4 0zM627 128.7l5.2 10.4l-10.4 0zM629.6 128.4l5.2 10.4l-10.4 0zM632.2 128.1l5.2 10.4l-10.4 0zM634.9 127.9l5.2 10.4l-10.4 0zM637.5 127.6l5.2 10.4l-10.4 0zM640.1 127.4l5.2 10.4l-10.4 0zM642.8 127.1l5.2 10.4l-10.4 0z" fill="#28d214"/>
<path d="M116.5 99.8l5.2 -10.4l-10.4 0zM119.1 99.8l5.2 -10.4l-10.4 0zM121.8 99.7l5.2 -10.4l-10.4 0zM124.4 99.7l5.2 -10.4l-10.4 0zM127 99.6l5.2 -10.4l-10.4 0zM129.6 99.6l5.2 -10.4l-10.4 0zM132.3 99.5l5.2 -10.4l-10.4 0zM134.9 99.4l5.2 -10.4l-10.4 0zM137.5 99.4l5.2 -10.4l-10.4 0zM140.2 99.3l5.2 -10.4l-10.4 0zM142.8 99.2l5.2 -10.4l-10.4 0zM145.4 99.1l5.2 -10.4l-10.4 0zM148.1 99.1l5.2 -10.4l-10.4 0zM150.7 99l5.2 -10.4l-10.4 0zM153.3 98.9l5.2 -10.4l-10.4 0zM155.9 98.8l5.2 -10.4l-10.4 0zM158.6 98.7l5.2 -10.4l-10.4 0zM161.2 98.6l5.2 -10.4l-10.4 0zM163.8 98.5l5.2 -10.4l-10.4 0zM166.5 98.4l5.2 -10.4l-10.4 0zM169.1 98.3l5.2 -10.4l-10.4 0zM171.7 98.2l5.2 -10.4l-10.4 0zM174.4 98.1l5.2 -10.4l-10.4 0zM177 98l5.2 -10.4l-10.4 0zM179.6 97.9l5.2 -10.4l-10.4 0zM182.2 97.8l5.2 -10.4l-10.4 0zM184.9 97.7l5.2 -10.4l-10.4 0zM187.5 97.6l5.2 -10.4l-10.4 0zM190.1 97.5l5.2 -10.4l-10.4 0zM192.8 97.4l5.2 -10.4l-10.4 0zM195.4 97.3l5.2 -10.4l-10.4 0zM198 97.1l5.2 -10.4l-10.4 0zM200.7 97l5.2 -10.4l-10.4 0zM203.3 96.9l5.2 -10.4l-10.4 0zM205.9 96.8l5.2 -10.4l-10.4 0zM208.5 96.7l5.2 -10.4l-10.4 0zM211.2 96.5l5.2 -10.4l-10.4 0zM213.8 96.4l5.2 -10.4l-10.4 0zM216.4 96.3l5.2 -10.4l-10.4 0zM219.1 96.2l5.2 -10.4l-10.4 0zM221.7 96.1l5.2 -10.4l-10.4 0zM224.3 95.9l5.2 -10.4l-10.4 0zM227 95.8l5.2 -10.4l-10.4 0zM229.6 95.6l5.2 -10.4l-10.4 0zM232.2 95.5l5.2 -10.4l-10.4 0zM234.8 95.3l5.2 -10.4l-10.4 0zM237.5 95.1l5.2 -10.4l-10.4 0zM240.1 95l5.2 -10.4l-10.4 0zM242.7 94.8l5.2 -10.4l-10.4 0zM245.4 94.6l5.2 -10.4l-10.4 0zM248 94.4l5.2 -10.4l-10.4 0zM250.6 94.1l5.2 -10.4l-10.4 0zM253.3 93.9l5.2 -10.4l-10.4 0zM255.9 93.6l5.2 -10.4l-10.4 0zM258.5 93.3l5.2 -10.4l-10.4 0zM261.1 92.9l5.2 -10.4l-10.4 0zM263.8 92.6l5.2 -10.4l-10.4 0zM266.4 92.2l5.2 -10.4l-10.4 0zM269 91.8l5.2 -10.4l-10.4 0zM271.7 91.4l5.2 -10.4l-10.4 0zM274.3 91l5.2 -10.4l-10.4 0zM276.9 90.6l5.2 -10.4l-10.4 0zM279.6 90.2l5.2 -10.4l-10.4 0zM282.2 89.8l5.2 -10.4l-10.4 0zM284.8 89.3l5.2 -10.4l-10.4 0zM287.4 88.9l5.2 -10.4l-10.4 0zM290.1 88.4l5.2 -10.4l-10.4 0zM292.7 88l5.2 -10.4l-10.4 0zM295.3 87.5l5.2 -10.4l-10.4 0zM298 87l5.2 -10.4l-10.4 0zM300.6 86.6l5.2 -10.4l-10.4 0zM303.2 86.2l5.2 -10.4l-10.4 0zM305.9 85.7l5.2 -10.4l-10.4 0zM308.5 85.3l5.2 -10.4l-10.4 0zM311.1 84.8l5.2 -10.4l-10.4 0zM313.7 84.4l5.2 -10.4l-10.4 0zM316.4 83.9l5.2 -10.4l-10.4 0zM319 83.4l5.2 -10.4l-10.4 0zM321.6 83l5.2 -10.4l-10.4 0zM324.3 82.4l5.2 -10.4l-10.4 0zM326.9 81.9l5.2 -10.4l-10.4 0zM329.5 81.3l5.2 -10.4l-10.4 0zM332.2 80.7l5.2 -10.4l-10.4 0zM334.8 80.1l5.2 -10.4l-10.4 0zM337.4 79.4l5.2 -10.4l-10.4 0zM340 78.7l5.2 -10.4l-10.4 0zM342.7 77.9l5.2 -10.4l-10.4 0zM345.3 76.9l5.2 -10.4l-10.4 0zM347.9 75.9l5.2 -10.4l-10.4 0zM350.6 74.8l5.2 -10.4l-10.4 0zM353.2 73.6l5.2 -10.4l-10.4 0zM355.8 72.3l5.2 -10.4l-10.4 0zM358.5 71l5.2 -10.4l-10.4 0zM361.1 69.6l5.2 -10.4l-10.4 0zM363.7 68.3l5.2 -10.4l-10.4 0zM366.3 66.8l5.2 -10.4l-10.4 0zM369 65.3l5.2 -10.4l-10.4 0zM371.6 63.6l5.2 -10.4l-10.4 0zM374.2 61.8l5.2 -10.4l-10.4 0zM376.9 59.9l5.2 -10.4l-10.4 0zM379.5 57.7l5.2 -10.4l-10.4 0zM382.1 55.2l5.2 -10.4l-10.4 0zM384.8 52.2l5.2 -10.4l-10.4 0zM387.4 48.8l5.2 -10.4l-10.4 0zM390 45.2l5.2 -10.4l-10.4 0zM392.6 41l5.2 -10.4l-10.4 0zM395.3 36.4l5.2 -10.4l-10.4 0zM397.9 31.5l5.2 -10.4l-10.4 0zM400.5 26.2l5.2 -10.4l-10.4 0zM447.5 68.4l5.2 -10.4l-10.4 0zM497.5 142.1l5.2 -10.4l-10.4 0zM491.9 163.2l5.2 -10.4l-10.4 0zM463 194.7l5.2 -10.4l-10.4 0zM465.6 190.9l5.2 -10.4l-10.4 0zM468.3 187.4l5.2 -10.4l-10.4 0zM470.9 184.1l5.2 -10.4l-10.4 0zM473.5 180.5l5.2 -10.4l-10.4 0zM476.1 176.5l5.2 -10.4l-10.4 0zM478.8 172.4l5.2 -10.4l-10.4 0zM481.4 168.1l5.2 -10.4l-10.4 0zM484 163.9l5.2 -10.4l-10.4 0zM486.7 160.5l5.2 -10.4l-10.4 0zM489.3 158.2l5.2 -10.4l-10.4 0zM501.6 153.6l5.2 -10.4l-10.4 0zM504.2 151.6l5.2 -10.4l-10.4 0zM506.9 149.8l5.2 -10.4l-10.4 0zM509.5 148.1l5.2 -10.4l-10.4 0zM512.1 146.7l5.2 -10.4l-10.4 0zM514.8 145.6l5.2 -10.4l-10.4 0zM517.4 144.2l5.2 -10.4l-10.4 0zM520 142.7l5.2 -10.4l-10.4 0zM522.6 141.4l5.2 -10.4l-10.4 0zM525.3 140.2l5.2 -10.4l-10.4 0zM527.9 139.2l5.2 -10.4l-10.4 0zM530.5 138.2l5.2 -10.4l-10.4 0zM533.2 137.4l5.2 -10.4l-10.4 0zM535.8 136.6l5.2 -10.4l-10.4 0zM538.4 135.9l5.2 -10.4l-10.4 0zM541 135.2l5.2 -10.4l-10.4 0zM543.7 134.5l5.2 -10.4l-10.4 0zM546.3 133.9l5.2 -10.4l-10.4 0zM548.9 133.3l5.2 -10.4l-10.4 0zM551.6 132.8l5.2 -10.4l-10.4 0zM554.2 132.3l5.2 -10.4l-10.4 0zM556.8 131.8l5.2 -10.4l-10.4 0zM559.5 131.3l5.2 -10.4l-10.4 0zM562.1 130.9l5.2 -10.4l-10.4 0zM564.7 130.5l5.2 -10.4l-10.4 0zM567.3 130.1l5.2 -10.4l-10.4 0zM570 129.7l5.2 -10.4l-10.4 0zM572.6 129.4l5.2 -10.4l-10.4 0zM575.2 129.2l5.2 -10.4l-10.4 0zM577.9 128.9l5.2 -10.4l-10.4 0zM580.5 128.6l5.2 -10.4l-10.4 0zM583.1 128.4l5.2 -10.4l-10.4 0zM585.8 128.1l5.2 -10.4l-10.4 0zM588.4 127.9l5.2 -10.4l-10.4 0zM591 127.6l5.2 -10.4l-10.4 0zM593.6 127.4l5.2 -10.4l-10.4 0zM596.3 127.2l5.2 -10.4l-10.4 0zM598.9 127l5.2 -10.4l-10.4 0zM601.5 126.7l5.2 -10.4l-10.4 0zM604.2 126.5l5.2 -10.4l-10.4 0zM606.8 126.3l5.2 -10.4l-10.4 0zM609.4 126.1l5.2 -10.4l-10.4 0zM612.1 125.9l5.2 -10.4l-10.4 0zM614.7 125.6l5.2 -10.4l-10.4 0zM617.3 125.4l5.2 -10.4l-10.4 0zM619.9 125.2l5.2 -10.4l-10.4 0zM622.6 125l5.2 -10.4l-10.4 0zM625.2 124.8l5.2 -10.4l-10.4 0zM627.8 124.6l5.2 -10.4l-10.4 0zM630.5 124.4l5.2 -10.4l-10.4 0zM633.1 124.2l5.2 -10.4l-10.4 0zM635.7 124l5.2 -10.4l-10.4 0zM638.4 123.8l5.2 -10.4l-10.4 0zM641 123.6l5.2 -10.4l-10.4 0z" fill="#2350dc"/>
<path d="M111 86.1a5.55 5.55 0 1 0 11.1 0a5.55 5.55 0 1 0 -11.1 0zM113.6 86a5.55 5.55 0 1 0 11.1 0a5.55 5.55 0 1 0 -11.1 0zM116.2 86a5.55 5.55 0 1 0 11.1 0a5.55 5.55 0 1 0 -11.1 0zM118.8 85.9a5.55 5.55 0 1 0 11.1 0a5.55 5.55 0 1 0 -11.1 0zM121.5 85.9a5.55 5.55 0 1 0 11.1 0a5.55 5.55 0 1 0 -11.1 0zM124.1 85.8a5.55 5.55 0 1 0 11.1 0a5.55 5.55 0 1 0 -11.1 0zM126.7 85.7a5.55 5.55 0 1 0 11.1 0a5.55 5.55 0 1 0 -11.1 0zM129.4 85.7a5.55 5.55 0 1 0 11.1 0a5.55 5.55 0 1 0 -11.1 0zM132 85.6a5.55 5.55 0 1 0 11.1 0a5.55 5.55 0 1 0 -11.1 0zM134.6 85.5a5.55 5.55 0 1 0 11.1 0a5.55 5.55 0 1 0 -11.1 0zM137.2 85.4a5.55 5.55 0 1 0 11.1 0a5.55 5.55 0 1 0 -11.1 0zM139.9 85.4a5.55 5.55 0 1 0 11.1 0a5.55 5.55 0 1 0 -11.1 0zM142.5 85.3a5.55 5.55 0 1 0 11.1 0a5.55 5.55 0 1 0 -11.1 0zM145.1 85.2a5.55 5.55 0 1 0 11.1 0a5.55 5.55 0 1 0 -11.1 0zM147.8 85.1a5.55 5.55 0 1 0 11.1 0a5.55 5.55 0 1 0 -11.1 0zM150.4 85.1a5.55 5.55 0 1 0 11.1 0a5.55 5.55 0 1 0 -11.1 0zM153 85a5.55 5.55 0 1 0 11.1 0a5.55 5.55 0 1 0 -11.1 0zM155.7 84.9a5.55 5.55 0 1 0 11.1 0a5.55 5.55 0 1 0 -11.1 0zM158.3 84.8a5.55 5.55 0 1 0 11.1 0a5.55 5.55 0 1 0 -11.1 0zM160.9 84.7a5.55 5.55 0 1 0 11.1 0a5.55 5.55 0 1 0 -11.1 0zM163.5 84.6a5.55 5.55 0 1 0 11.1 0a5.55 5.55 0 1 0 -11.1 0zM166.2 84.5a5.55 5.55 0 1 0 11.1 0a5.55 5.55 0 1 0 -11.1 0zM168.8 84.5a5.55 5.55 0 1 0 11.1 0a5.55 5.55 0 1 0 -11.1 0zM171.4 84.4a5.55 5.55 0 1 0 11.1 0a5.55 5.55 0 1 0 -11.1 0zM174.1 84.3a5.55 5.55 0 1 0 11.1 0a5.55 5.55 0 1 0 -11.1 0zM176.7 84.2a5.55 5.55 0 1 0 11.1 0a5.55 5.55 0 1 0 -11.1 0zM179.3 84.1a5.55 5.55 0 1 0 11.1 0a5.55 5.55 0 1 0 -11.1 0zM182 84a5.55 5.55 0 1 0 11.1 0a5.55 5.55 0 1 0 -11.1 0zM184.6 83.9a5.55 5.55 0 1 0 11.1 0a5.55 5.55 0 1 0 -11.1 0zM187.2 83.8a5.55 5.55 0 1 0 11.1 0a5.55 5.55 0 1 0 -11.1 0zM189.8 83.7a5.55 5.55 0 1 0 11.1 0a5.55 5.55 0 1 0 -11.1 0zM192.5 83.6a5.55 5.55 0 1 0 11.1 0a5.55 5.55 0 1 0 -11.1 0zM195.1 83.5a5.55 5.55 0 1 0 11.1 0a5.55 5.55 0 1 0 -11.1 0zM197.7 83.4a5.55 5.55 0 1 0 11.1 0a5.55 5.55 0 1 0 -11.1 0zM200.4 83.3a5.55 5.55 0 1 0 11.1 0a5.55 5.55 0 1 0 -11.1 0zM203 83.2a5.55 5.55 0 1 0 11.1 0a5.55 5.55 0 1 0 -11.1 0zM205.6 83.1a5.55 5.55 0 1 0 11.1 0a5.55 5.55 0 1 0 -11.1 0zM208.3 83a5.55 5.55 0 1 0 11.1 0a5.55 5.55 0 1 0 -11.1 0zM210.9 82.9a5.55 5.55 0 1 0 11.1 0a5.55 5.55 0 1 0 -11.1 0zM213.5 82.8a5.55 5.55 0 1 0 11.1 0a5.55 5.55 0 1 0 -11.1 0zM216.1 82.7a5.55 5.55 0 1 0 11.1 0a5.55 5.55 0 1 0 -11.1 0zM218.8 82.6a5.55 5.55 0 1 0 11.1 0a5.55 5.55 0 1 0 -11.1 0zM221.4 82.5a5.55 5.55 0 1 0 11.1 0a5.55 5.55 0 1 0 -11.1 0zM224 82.4a5.55 5.55 0 1 0 11.1 0a5.55 5.55 0 1 0 -11.1 0zM226.7 82.3a5.55 5.55 0 1 0 11.1 0a5.55 5.55 0 1 0 -11.1 0zM229.3 82.2a5.55 5.55 0 1 0 11.1 0a5.55 5.55 0 1 0 -11.1 0zM231.9 82a5.55 5.55 0 1 0 11.1 0a5.55 5.55 0 1 0 -11.1 0zM234.6 81.9a5.55 5.55 0 1 0 11.1 0a5.55 5.55 0 1 0 -11.1 0zM237.2 81.8a5.55 5.55 0 1 0 11.1 0a5.55 5.55 0 1 0 -11.1 0zM239.8 81.6a5.55 5.55 0 1 0 11.1 0a5.55 5.55 0 1 0 -11.1 0zM242.4 81.5a5.55 5.55 0 1 0 11.1 0a5.55 5.55 0 1 0 -11.1 0zM245.1 81.3a5.55 5.55 0 1 0 11.1 0a5.55 5.55 0 1 0 -11.1 0zM247.7 81.1a5.55 5.55 0 1 0 11.1 0a5.55 5.55 0 1 0 -11.1 0zM250.3 80.9a5.55 5.55 0 1 0 11.1 0a5.55 5.55 0 1 0 -11.1 0zM253 80.8a5.55 5.55 0 1 0 11.1 0a5.55 5.55 0 1 0 -11.1 0zM255.6 80.6a5.55 5.55 0 1 0 11.1 0a5.55 5.55 0 1 0 -11.1 0zM258.2 80.3a5.55 5.55 0 1 0 11.1 0a5.55 5.55 0 1 0 -11.1 0zM260.9 80.1a5.55 5.55 0 1 0 11.1 0a5.55 5.55 0 1 0 -11.1 0zM263.5 79.9a5.55 5.55 0 1 0 11.1 0a5.55 5.55 0 1 0 -11.1 0zM266.1 79.6a5.55 5.55 0 1 0 11.1 0a5.55 5.55 0 1 0 -11.1 0zM268.7 79.4a5.55 5.55 0 1 0 11.1 0a5.55 5.55 0 1 0 -11.1 0zM271.4 79.1a5.55 5.55 0 1 0 11.1 0a5.55 5.55 0 1 0 -11.1 0zM274 78.9a5.55 5.55 0 1 0 11.1 0a5.55 5.55 0 1 0 -11.1 0zM276.6 78.6a5.55 5.55 0 1 0 11.1 0a5.55 5.55 0 1 0 -11.1 0zM279.3 78.3a5.55 5.55 0 1 0 11.1 0a5.55 5.55 0 1 0 -11.1 0zM281.9 78a5.55 5.55 0 1 0 11.1 0a5.55 5.55 0 1 0 -11.1 0zM284.5 77.7a5.55 5.55 0 1 0 11.1 0a5.55 5.55 0 1 0 -11.1 0zM287.2 77.4a5.55 5.55 0 1 0 11.1 0a5.55 5.55 0 1 0 -11.1 0zM289.8 77.1a5.55 5.55 0 1 0 11.1 0a5.55 5.55 0 1 0 -11.1 0zM292.4 76.8a5.55 5.55 0 1 0 11.1 0a5.55 5.55 0 1 0 -11.1 0zM295 76.4a5.55 5.55 0 1 0 11.1 0a5.55 5.55 0 1 0 -11.1 0zM297.7 76.1a5.55 5.55 0 1 0 11.1 0a5.55 5.55 0 1 0 -11.1 0zM300.3 75.7a5.55 5.55 0 1 0 11.1 0a5.55 5.55 0 1 0 -11.1 0zM302.9 75.3a5.55 5.55 0 1 0 11.1 0a5.55 5.55 0 1 0 -11.1 0zM305.6 74.9a5.55 5.55 0 1 0 11.1 0a5.55 5.55 0 1 0 -11.1 0zM308.2 74.5a5.55 5.55 0 1 0 11.1 0a5.55 5.55 0 1 0 -11.1 0zM310.8 74.1a5.55 5.55 0 1 0 11.1 0a5.55 5.55 0 1 0 -11.1 0zM313.5 73.6a5.55 5.55 0 1 0 11.1 0a5.55 5.55 0 1 0 -11.1 0zM316.1 73.1a5.55 5.55 0 1 0 11.1 0a5.55 5.55 0 1 0 -11.1 0zM318.7 72.6a5.55 5.55 0 1 0 11.1 0a5.55 5.55 0 1 0 -11.1 0zM321.3 72.1a5.55 5.55 0 1 0 11.1 0a5.55 5.55 0 1 0 -11.1 0zM324 71.5a5.55 5.55 0 1 0 11.1 0a5.55 5.55 0 1 0 -11.1 0zM326.6 70.9a5.55 5.55 0 1 0 11.1 0a5.55 5.55 0 1 0 -11.1 0zM329.2 70.3a5.55 5.55 0 1 0 11.1 0a5.55 5.55 0 1 0 -11.1 0zM331.9 69.7a5.55 5.55 0 1 0 11.1 0a5.55 5.55 0 1 0 -11.1 0zM334.5 69a5.55 5.55 0 1 0 11.1 0a5.55 5.55 0 1 0 -11.1 0zM337.1 68.2a5.55 5.55 0 1 0 11.1 0a5.55 5.55 0 1 0 -11.1 0zM339.8 67.3a5.55 5.55 0 1 0 11.1 0a5.55 5.55 0 1 0 -11.1 0zM342.4 66.3a5.55 5.55 0 1 0 11.1 0a5.55 5.55 0 1 0 -11.1 0zM345 65.2a5.55 5.55 0 1 0 11.1 0a5.55 5.55 0 1 0 -11.1 0zM347.6 64.1a5.55 5.55 0 1 0 11.1 0a5.55 5.55 0 1 0 -11.1 0zM350.3 62.9a5.55 5.55 0 1 0 11.1 0a5.55 5.55 0 1 0 -11.1 0zM352.9 61.7a5.55 5.55 0 1 0 11.1 0a5.55 5.55 0 1 0 -11.1 0zM355.5 60.5a5.55 5.55 0 1 0 11.1 0a5.55 5.55 0 1 0 -11.1 0zM358.2 59.3a5.55 5.55 0 1 0 11.1 0a5.55 5.55 0 1 0 -11.1 0zM360.8 58.1a5.55 5.55 0 1 0 11.1 0a5.55 5.55 0 1 0 -11.1 0zM363.4 56.9a5.55 5.55 0 1 0 11.1 0a5.55 5.55 0 1 0 -11.1 0zM366.1 55.5a5.55 5.55 0 1 0 11.1 0a5.55 5.55 0 1 0 -11.1 0zM368.7 54.1a5.55 5.55 0 1 0 11.1 0a5.55 5.55 0 1 0 -11.1 0zM371.3 52.4a5.55 5.55 0 1 0 11.1 0a5.55 5.55 0 1 0 -11.1 0zM373.9 50.5a5.55 5.55 0 1 0 11.1 0a5.55 5.55 0 1 0 -11.1 0zM376.6 48.1a5.55 5.55 0 1 0 11.1 0a5.55 5.55 0 1 0 -11.1 0zM379.2 45a5.55 5.55 0 1 0 11.1 0a5.55 5.55 0 1 0 -11.1 0zM381.8 41.6a5.55 5.55 0 1 0 11.1 0a5.55 5.55 0 1 0 -11.1 0zM384.5 38a5.55 5.55 0 1 0 11.1 0a5.55 5.55 0 1 0 -11.1 0zM387.1 34.2a5.55 5.55 0 1 0 11.1 0a5.55 5.55 0 1 0 -11.1 0zM389.7 30a5.55 5.55 0 1 0 11.1 0a5.55 5.55 0 1 0 -11.1 0zM392.4 25.3a5.55 5.55 0 1 0 11.1 0a5.55 5.55 0 1 0 -11.1 0z" fill="none" stroke="#a028f0" stroke-width="1.3"/>
<path d="M457.4 171.8a5.55 5.55 0 1 0 11.1 0a5.55 5.55 0 1 0 -11.1 0zM459.3 166.2a5.55 5.55 0 1 0 11.1 0a5.55 5.55 0 1 0 -11.1 0zM461.5 161a5.55 5.55 0 1 0 11.1 0a5.55 5.55 0 1 0 -11.1 0zM464.3 156.5a5.55 5.55 0 1 0 11.1 0a5.55 5.55 0 1 0 -11.1 0zM467.2 152.2a5.55 5.55 0 1 0 11.1 0a5.55 5.55 0 1 0 -11.1 0zM469.8 148a5.55 5.55 0 1 0 11.1 0a5.55 5.55 0 1 0 -11.1 0zM472.3 144.1a5.55 5.55 0 1 0 11.1 0a5.55 5.55 0 1 0 -11.1 0zM474.8 140.4a5.55 5.55 0 1 0 11.1 0a5.55 5.55 0 1 0 -11.1 0zM477.4 137a5.55 5.55 0 1 0 11.1 0a5.55 5.55 0 1 0 -11.1 0zM480 133.9a5.55 5.55 0 1 0 11.1 0a5.55 5.55 0 1 0 -11.1 0zM482.6 131a5.55 5.55 0 1 0 11.1 0a5.55 5.55 0 1 0 -11.1 0zM485.2 128.4a5.55 5.55 0 1 0 11.1 0a5.55 5.55 0 1 0 -11.1 0zM487.8 126a5.55 5.55 0 1 0 11.1 0a5.55 5.55 0 1 0 -11.1 0zM490 123.5a5.55 5.55 0 1 0 11.1 0a5.55 5.55 0 1 0 -11.1 0zM491.7 120.7a5.55 5.55 0 1 0 11.1 0a5.55 5.55 0 1 0 -11.1 0zM493.2 118.1a5.55 5.55 0 1 0 11.1 0a5.55 5.55 0 1 0 -11.1 0zM494.6 115.5a5.55 5.55 0 1 0 11.1 0a5.55 5.55 0 1 0 -11.1 0zM502.8 99.6a5.55 5.55 0 1 0 11.1 0a5.55 5.55 0 1 0 -11.1 0zM498.9 152.9a5.55 5.55 0 1 0 11.1 0a5.55 5.55 0 1 0 -11.1 0zM501.9 155a5.55 5.55 0 1 0 11.1 0a5.55 5.55 0 1 0 -11.1 0zM514.8 135.5a5.55 5.55 0 1 0 11.1 0a5.55 5.55 0 1 0 -11.1 0zM518.2 138.7a5.55 5.55 0 1 0 11.1 0a5.55 5.55 0 1 0 -11.1 0zM620.7 46.5a5.55 5.55 0 1 0 11.1 0a5.55 5.55 0 1 0 -11.1 0zM623.9 44.4a5.55 5.55 0 1 0 11.1 0a5.55 5.55 0 1 0 -11.1 0zM562.9 112a5.55 5.55 0 1 0 11.1 0a5.55 5.55 0 1 0 -11.1 0zM565.4 111.8a5.55 5.55 0 1 0 11.1 0a5.55 5.55 0 1 0 -11.1 0zM568 111.6a5.55 5.55 0 1 0 11.1 0a5.55 5.55 0 1 0 -11.1 0zM570.6 111.5a5.55 5.55 0 1 0 11.1 0a5.55 5.55 0 1 0 -11.1 0zM573.2 111.3a5.55 5.55 0 1 0 11.1 0a5.55 5.55 0 1 0 -11.1 0zM575.8 111.1a5.55 5.55 0 1 0 11.1 0a5.55 5.55 0 1 0 -11.1 0zM578.3 110.9a5.55 5.55 0 1 0 11.1 0a5.55 5.55 0 1 0 -11.1 0zM580.9 110.7a5.55 5.55 0 1 0 11.1 0a5.55 5.55 0 1 0 -11.1 0zM583.5 110.6a5.55 5.55 0 1 0 11.1 0a5.55 5.55 0 1 0 -11.1 0zM586.1 110.4a5.55 5.55 0 1 0 11.1 0a5.55 5.55 0 1 0 -11.1 0zM588.7 110.2a5.55 5.55 0 1 0 11.1 0a5.55 5.55 0 1 0 -11.1 0zM591.2 110a5.55 5.55 0 1 0 11.1 0a5.55 5.55 0 1 0 -11.1 0zM593.8 109.8a5.55 5.55 0 1 0 11.1 0a5.55 5.55 0 1 0 -11.1 0zM596.4 109.7a5.55 5.55 0 1 0 11.1 0a5.55 5.55 0 1 0 -11.1 0zM599 109.5a5.55 5.55 0 1 0 11.1 0a5.55 5.55 0 1 0 -11.1 0zM601.6 109.3a5.55 5.55 0 1 0 11.1 0a5.55 5.55 0 1 0 -11.1 0zM604.1 109.1a5.55 5.55 0 1 0 11.1 0a5.55 5.55 0 1 0 -11.1 0zM606.7 108.9a5.55 5.55 0 1 0 11.1 0a5.55 5.55 0 1 0 -11.1 0zM609.3 108.8a5.55 5.55 0 1 0 11.1 0a5.55 5.55 0 1 0 -11.1 0zM611.9 108.6a5.55 5.55 0 1 0 11.1 0a5.55 5.55 0 1 0 -11.1 0zM614.5 108.4a5.55 5.55 0 1 0 11.1 0a5.55 5.55 0 1 0 -11.1 0zM627.6 107.1a5.55 5.55 0 1 0 11.1 0a5.55 5.55 0 1 0 -11.1 0zM630.7 107a5.55 5.55 0 1 0 11.1 0a5.55 5.55 0 1 0 -11.1 0zM633.8 106.9a5.55 5.55 0 1 0 11.1 0a5.55 5.55 0 1 0 -11.1 0zM636.9 106.8a5.55 5.55 0 1 0 11.1 0a5.55 5.55 0 1 0 -11.1 0z" fill="none" stroke="#a028f0" stroke-width="1.1"/>
<path d="M156.5 74.6h8.2v10h-8.2zM159.2 74.5h8.2v10h-8.2zM161.8 74.5h8.2v10h-8.2zM164.5 74.4h8.2v10h-8.2zM167.2 74.3h8.2v10h-8.2zM169.8 74.2h8.2v10h-8.2zM172.5 74.1h8.2v10h-8.2zM175.2 74.1h8.2v10h-8.2zM177.8 74h8.2v10h-8.2zM180.5 73.9h8.2v10h-8.2zM183.2 73.8h8.2v10h-8.2zM185.8 73.7h8.2v10h-8.2zM188.5 73.6h8.2v10h-8.2zM191.2 73.6h8.2v10h-8.2zM193.8 73.5h8.2v10h-8.2zM196.5 73.4h8.2v10h-8.2zM199.2 73.3h8.2v10h-8.2zM201.8 73.2h8.2v10h-8.2zM204.5 73.1h8.2v10h-8.2zM207.2 73h8.2v10h-8.2zM209.8 72.9h8.2v10h-8.2zM212.5 72.8h8.2v10h-8.2zM215.2 72.7h8.2v10h-8.2zM217.8 72.6h8.2v10h-8.2zM220.5 72.5h8.2v10h-8.2zM223.2 72.5h8.2v10h-8.2zM225.8 72.4h8.2v10h-8.2zM228.5 72.3h8.2v10h-8.2zM231.2 72.2h8.2v10h-8.2zM233.8 72h8.2v10h-8.2zM236.5 71.9h8.2v10h-8.2zM239.2 71.8h8.2v10h-8.2zM241.8 71.7h8.2v10h-8.2zM244.5 71.5h8.2v10h-8.2zM247.2 71.4h8.2v10h-8.2zM249.8 71.2h8.2v10h-8.2zM252.5 71.1h8.2v10h-8.2zM255.2 70.9h8.2v10h-8.2zM257.8 70.7h8.2v10h-8.2zM260.5 70.5h8.2v10h-8.2zM263.2 70.2h8.2v10h-8.2zM265.8 70h8.2v10h-8.2zM268.5 69.8h8.2v10h-8.2zM271.2 69.5h8.2v10h-8.2zM273.8 69.2h8.2v10h-8.2zM276.5 68.8h8.2v10h-8.2zM279.2 68.5h8.2v10h-8.2zM281.8 68.1h8.2v10h-8.2zM284.5 67.8h8.2v10h-8.2zM287.2 67.4h8.2v10h-8.2zM289.8 67h8.2v10h-8.2zM292.5 66.5h8.2v10h-8.2zM295.2 66.1h8.2v10h-8.2zM297.8 65.7h8.2v10h-8.2zM300.5 65.2h8.2v10h-8.2zM303.2 64.7h8.2v10h-8.2zM305.8 64.2h8.2v10h-8.2zM308.5 63.6h8.2v10h-8.2zM311.2 63.1h8.2v10h-8.2zM313.8 62.5h8.2v10h-8.2zM316.5 61.9h8.2v10h-8.2zM319.2 61.3h8.2v10h-8.2zM321.8 60.7h8.2v10h-8.2zM324.5 60h8.2v10h-8.2zM327.2 59.4h8.2v10h-8.2zM329.8 58.8h8.2v10h-8.2zM332.5 58.1h8.2v10h-8.2zM335.2 57.4h8.2v10h-8.2zM337.8 56.7h8.2v10h-8.2zM340.5 56h8.2v10h-8.2zM343.2 55.3h8.2v10h-8.2zM345.8 54.6h8.2v10h-8.2zM348.5 53.8h8.2v10h-8.2zM351.2 53.1h8.2v10h-8.2zM353.8 52.3h8.2v10h-8.2zM356.5 51.5h8.2v10h-8.2zM359.2 50.7h8.2v10h-8.2zM361.8 50h8.2v10h-8.2zM364.5 49.3h8.2v10h-8.2zM367.2 48.6h8.2v10h-8.2zM369.8 47.8h8.2v10h-8.2zM372.5 46.8h8.2v10h-8.2zM375.2 45.6h8.2v10h-8.2zM377.8 43.6h8.2v10h-8.2zM380 40.4h9.3v10h-9.3zM382.6 36.9h9.3v10h-9.3zM385.3 33.6h9.3v10h-9.3zM388 31h9.3v10h-9.3zM390.6 28.5h9.3v10h-9.3zM393.3 25h9.3v10h-9.3zM396 18.6h9.3v10h-9.3zM492.7 99.3h9.3v9.3h-9.3z" fill="none" stroke="#8c5014" stroke-width="1.15"/>
<path d="M374.6 50.5l4.9 -5l4.9 5l-4.9 5z" fill="none" stroke="#28d214" stroke-width="1.2"/>
</g>
<path d="M116.5 5.5H642.5V330.5H116.5ZM379.5 5.5V330.5" stroke="#444444" stroke-width="1" fill="none"/>
<path d="M116.5 330.7h3.6M642.5 330.7h-3.6M116.5 319.5h6.2M642.5 319.5h-6.2M116.5 308.3h3.6M642.5 308.3h-3.6M116.5 297.1h3.6M642.5 297.1h-3.6M116.5 285.9h3.6M642.5 285.9h-3.6M116.5 274.6h6.2M642.5 274.6h-6.2M116.5 263.4h3.6M642.5 263.4h-3.6M116.5 252.2h3.6M642.5 252.2h-3.6M116.5 241h3.6M642.5 241h-3.6M116.5 229.8h6.2M642.5 229.8h-6.2M116.5 218.6h3.6M642.5 218.6h-3.6M116.5 207.4h3.6M642.5 207.4h-3.6M116.5 196.1h3.6M642.5 196.1h-3.6M116.5 184.9h6.2M642.5 184.9h-6.2M116.5 173.7h3.6M642.5 173.7h-3.6M116.5 162.5h3.6M642.5 162.5h-3.6M116.5 151.3h3.6M642.5 151.3h-3.6M116.5 140.1h6.2M642.5 140.1h-6.2M116.5 128.9h3.6M642.5 128.9h-3.6M116.5 117.6h3.6M642.5 117.6h-3.6M116.5 106.4h3.6M642.5 106.4h-3.6M116.5 95.2h6.2M642.5 95.2h-6.2M116.5 84h3.6M642.5 84h-3.6M116.5 72.8h3.6M642.5 72.8h-3.6M116.5 61.6h3.6M642.5 61.6h-3.6M116.5 50.4h6.2M642.5 50.4h-6.2M116.5 39.1h3.6M642.5 39.1h-3.6M116.5 27.9h3.6M642.5 27.9h-3.6M116.5 16.7h3.6M642.5 16.7h-3.6M116.5 5.5h6.2M642.5 5.5h-6.2M116.5 330.5v-6.2M116.5 5.5v6.2M142.8 330.5v-3.6M142.8 5.5v3.6M169.1 330.5v-3.6M169.1 5.5v3.6M195.4 330.5v-3.6M195.4 5.5v3.6M221.7 330.5v-3.6M221.7 5.5v3.6M248 330.5v-6.2M248 5.5v6.2M274.3 330.5v-3.6M274.3 5.5v3.6M300.6 330.5v-3.6M300.6 5.5v3.6M326.9 330.5v-3.6M326.9 5.5v3.6M353.2 330.5v-3.6M353.2 5.5v3.6M379.5 330.5v-6.2M379.5 5.5v6.2M405.8 330.5v-3.6M405.8 5.5v3.6M432.1 330.5v-3.6M432.1 5.5v3.6M458.4 330.5v-3.6M458.4 5.5v3.6M484.7 330.5v-3.6M484.7 5.5v3.6M511 330.5v-6.2M511 5.5v6.2M537.3 330.5v-3.6M537.3 5.5v3.6M563.6 330.5v-3.6M563.6 5.5v3.6M589.9 330.5v-3.6M589.9 5.5v3.6M616.2 330.5v-3.6M616.2 5.5v3.6M642.5 330.5v-6.2M642.5 5.5v6.2" stroke="#222" stroke-width="0.65" fill="none"/>
<g>
<text x="110.3" y="11.3" font-size="17" text-anchor="end">1.02</text>
<text x="110.3" y="56.2" font-size="17" text-anchor="end">1.00</text>
<text x="110.3" y="101" font-size="17" text-anchor="end">0.98</text>
<text x="110.3" y="145.9" font-size="17" text-anchor="end">0.96</text>
<text x="110.3" y="190.7" font-size="17" text-anchor="end">0.94</text>
<text x="110.3" y="235.6" font-size="17" text-anchor="end">0.92</text>
<text x="110.3" y="280.4" font-size="17" text-anchor="end">0.90</text>
<text x="110.3" y="325.3" font-size="17" text-anchor="end">0.88</text>
<text x="116.5" y="351.8" font-size="17" text-anchor="middle">−10</text>
<text x="248" y="351.8" font-size="17" text-anchor="middle">−5</text>
<text x="379.5" y="351.8" font-size="17" text-anchor="middle">0</text>
<text x="511" y="351.8" font-size="17" text-anchor="middle">5</text>
<text x="642.5" y="351.8" font-size="17" text-anchor="middle">10</text>
<text class="s" x="-0.6" y="52.9" font-size="18.6" textLength="68.2" lengthAdjust="spacingAndGlyphs" fill="#a028f0">(12,36)</text>
<text class="s" x="1.2" y="79.1" font-size="18.6" textLength="68.4" lengthAdjust="spacingAndGlyphs" fill="#2350dc">(10,30)</text>
<text class="s" x="5.2" y="114.4" font-size="18.6" textLength="56.4" lengthAdjust="spacingAndGlyphs" fill="#28d214">(8,24)</text>
<text class="s" x="7.6" y="146" font-size="18.6" textLength="57" lengthAdjust="spacingAndGlyphs" fill="#82860a">(6,18)</text>
<text class="s" x="192.6" y="65.4" font-size="18.6" textLength="70" lengthAdjust="spacingAndGlyphs" fill="#8c5014">(14,42)</text>
<text class="s" x="254.8" y="165.5" font-size="18.6" textLength="57" lengthAdjust="spacingAndGlyphs" fill="#85099d">(4,12)</text>
<text class="s" x="308.1" y="228.8" font-size="18.6" textLength="45.4" lengthAdjust="spacingAndGlyphs" fill="#1a1af0">(2,6)</text>
</g>
<path d="M69.4 47.9L122 72" stroke="#a028f0" stroke-width="1.9" fill="none"/><path d="M134.5 77.8L118.5 75.4L122 72L122.3 67.2Z" fill="#a028f0"/>
<path d="M73.3 73.1L97.3 82.8" stroke="#2350dc" stroke-width="1.9" fill="none"/><path d="M110.1 88L94 86.4L97.3 82.8L97.4 78Z" fill="#2350dc"/>
<path d="M66 108.6L96.3 108.6" stroke="#28d214" stroke-width="1.9" fill="none"/><path d="M110.1 108.6L94.6 113.1L96.3 108.6L94.6 104.1Z" fill="#28d214"/>
<path d="M68 136.3L98.9 126.5" stroke="#82860a" stroke-width="1.9" fill="none"/><path d="M112.1 122.4L98.7 131.4L98.9 126.5L96 122.8Z" fill="#82860a"/>
</svg>
</body></html>
